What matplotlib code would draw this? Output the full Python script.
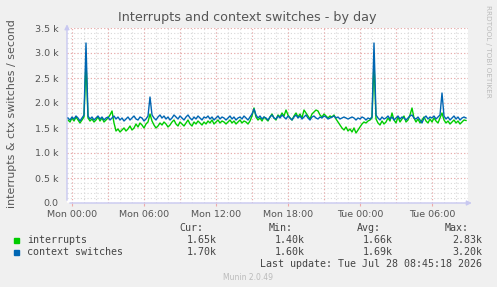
import numpy as np
import matplotlib
matplotlib.use("Agg")
import matplotlib.pyplot as plt

# samples every 10 minutes, hours relative to Mon 00:00
hours = np.arange(200) / 6 - 1 / 3

interrupts = [
    1.66, 1.62, 1.70, 1.64, 1.72, 1.66, 1.60, 1.66, 1.72, 2.83, 1.70, 1.64, 1.68, 1.62, 1.66, 1.72, 1.64, 1.70, 1.62, 1.66,
    1.70, 1.76, 1.84, 1.60, 1.44, 1.48, 1.42, 1.46, 1.50, 1.44, 1.48, 1.54, 1.46, 1.50, 1.58, 1.52, 1.60, 1.56, 1.50, 1.58,
    1.62, 1.78, 1.64, 1.56, 1.50, 1.54, 1.60, 1.56, 1.62, 1.58, 1.52, 1.56, 1.62, 1.66, 1.58, 1.54, 1.62, 1.58, 1.54, 1.60,
    1.66, 1.58, 1.54, 1.62, 1.58, 1.64, 1.60, 1.56, 1.62, 1.58, 1.64, 1.60, 1.66, 1.58, 1.62, 1.66, 1.60, 1.64, 1.62, 1.58,
    1.62, 1.66, 1.60, 1.64, 1.58, 1.62, 1.66, 1.60, 1.64, 1.62, 1.58, 1.64, 1.74, 1.90, 1.72, 1.66, 1.70, 1.64, 1.72, 1.68,
    1.64, 1.72, 1.78, 1.70, 1.66, 1.76, 1.72, 1.80, 1.74, 1.86, 1.76, 1.70, 1.66, 1.74, 1.80, 1.72, 1.78, 1.70, 1.86, 1.80,
    1.74, 1.68, 1.78, 1.82, 1.86, 1.84, 1.76, 1.72, 1.78, 1.74, 1.70, 1.74, 1.72, 1.76, 1.68, 1.62, 1.56, 1.50, 1.46, 1.52,
    1.44, 1.48, 1.42, 1.50, 1.40, 1.46, 1.52, 1.58, 1.62, 1.60, 1.64, 1.66, 1.70, 2.83, 1.68, 1.60, 1.56, 1.64, 1.58, 1.62,
    1.70, 1.64, 1.80, 1.66, 1.60, 1.72, 1.62, 1.68, 1.74, 1.62, 1.66, 1.76, 1.90, 1.70, 1.62, 1.68, 1.60, 1.66, 1.72, 1.64,
    1.60, 1.68, 1.62, 1.70, 1.64, 1.60, 1.70, 1.80, 1.66, 1.60, 1.64, 1.58, 1.62, 1.66, 1.60, 1.64, 1.58, 1.62, 1.66, 1.65,
]
ctx_switches = [
    1.70, 1.66, 1.72, 1.68, 1.74, 1.70, 1.64, 1.70, 1.76, 3.20, 1.74, 1.68, 1.72, 1.66, 1.70, 1.74, 1.68, 1.72, 1.66, 1.70,
    1.72, 1.66, 1.70, 1.74, 1.68, 1.72, 1.66, 1.70, 1.64, 1.68, 1.72, 1.66, 1.70, 1.74, 1.68, 1.66, 1.72, 1.70, 1.64, 1.68,
    1.74, 2.12, 1.76, 1.70, 1.66, 1.72, 1.76, 1.70, 1.74, 1.68, 1.72, 1.66, 1.70, 1.76, 1.72, 1.68, 1.74, 1.70, 1.66, 1.72,
    1.76, 1.70, 1.66, 1.72, 1.68, 1.74, 1.70, 1.66, 1.72, 1.70, 1.74, 1.68, 1.72, 1.66, 1.70, 1.74, 1.68, 1.72, 1.70, 1.66,
    1.70, 1.74, 1.68, 1.72, 1.66, 1.70, 1.72, 1.68, 1.74, 1.70, 1.66, 1.72, 1.78, 1.88, 1.76, 1.70, 1.74, 1.68, 1.72, 1.70,
    1.66, 1.72, 1.76, 1.70, 1.68, 1.74, 1.70, 1.76, 1.72, 1.68, 1.74, 1.70, 1.66, 1.72, 1.76, 1.70, 1.74, 1.68, 1.72, 1.76,
    1.70, 1.66, 1.72, 1.74, 1.70, 1.68, 1.72, 1.70, 1.74, 1.72, 1.68, 1.70, 1.72, 1.74, 1.70, 1.72, 1.68, 1.70, 1.72, 1.70,
    1.68, 1.70, 1.72, 1.70, 1.66, 1.70, 1.68, 1.72, 1.70, 1.66, 1.70, 1.68, 1.72, 3.20, 1.76, 1.70, 1.66, 1.72, 1.68, 1.70,
    1.74, 1.68, 1.72, 1.66, 1.70, 1.74, 1.68, 1.72, 1.70, 1.66, 1.70, 1.74, 1.76, 1.70, 1.68, 1.72, 1.66, 1.60, 1.70, 1.74,
    1.68, 1.72, 1.70, 1.74, 1.68, 1.72, 1.76, 2.20, 1.74, 1.68, 1.72, 1.66, 1.70, 1.74, 1.68, 1.72, 1.66, 1.70, 1.72, 1.70,
]

tick_hours = [0, 6, 12, 18, 24, 30]
tick_labels = ["Mon 00:00", "Mon 06:00", "Mon 12:00", "Mon 18:00", "Tue 00:00", "Tue 06:00"]
y_ticks = [0, 0.5, 1.0, 1.5, 2.0, 2.5, 3.0, 3.5]
y_labels = ["0.0", "0.5 k", "1.0 k", "1.5 k", "2.0 k", "2.5 k", "3.0 k", "3.5 k"]

series_names = ["interrupts", "context switches"]
colors = ["#00CC00", "#0066B3"]
cur = ["1.65k", "1.70k"]
mins = ["1.40k", "1.60k"]
avgs = ["1.66k", "1.69k"]
maxs = ["2.83k", "3.20k"]

W, H = 497, 287
fig = plt.figure(figsize=(W / 100, H / 100), dpi=100, facecolor="#F0F0F0")
ax = fig.add_axes([67 / W, 1 - 203 / H, 401 / W, 175 / H])
ax.set_facecolor("white")

ax.set_xlim(-5 / 12, 33.0)
ax.set_ylim(0, 3.5)

# grids: minor grey, major pinkish
for h in np.arange(0, 33, 1):
    ax.axvline(h, color="#D8D8D8", lw=0.8, ls=(0, (1, 2)), zorder=1)
for v in np.arange(0, 3.51, 0.1):
    ax.axhline(v, color="#D8D8D8", lw=0.8, ls=(0, (1, 2)), zorder=1)
for h in np.arange(0, 33, 3):
    ax.axvline(h, color="#EEAAAA", lw=0.8, ls=(0, (1, 2)), zorder=2)
for v in y_ticks:
    ax.axhline(v, color="#EEAAAA", lw=0.8, ls=(0, (1, 2)), zorder=2)

ax.plot(hours, interrupts, color=colors[0], lw=1.0, zorder=3)
ax.plot(hours, ctx_switches, color=colors[1], lw=1.0, zorder=4)

for s in ax.spines.values():
    s.set_visible(False)

ax.set_xticks(tick_hours)
ax.set_xticklabels(tick_labels)
ax.set_yticks(y_ticks)
ax.set_yticklabels(y_labels)
ax.tick_params(axis="x", length=2, color="#EEAAAA", pad=3, labelsize=6.8, labelcolor="#555555")
ax.tick_params(axis="y", length=0, pad=6, labelsize=6.8, labelcolor="#555555")

# axis arrows
axc = "#C8C8F0"
ax.annotate("", xy=(-5 / 12, 3.63), xytext=(-5 / 12, 0), annotation_clip=False,
            arrowprops=dict(arrowstyle="-|>", color=axc, lw=1, mutation_scale=7))
ax.annotate("", xy=(33.55, 0), xytext=(-5 / 12, 0), annotation_clip=False,
            arrowprops=dict(arrowstyle="-|>", color=axc, lw=1, mutation_scale=7))

fig.text(247 / W, 1 - 17 / H, "Interrupts and context switches - by day",
         ha="center", va="center", fontsize=9.2, color="#555555")
fig.text(12 / W, 1 - 114 / H, "interrupts & ctx switches / second", rotation=90,
         ha="center", va="center", fontsize=7.9, color="#555555")
fig.text(488 / W, 1 - 5 / H, "RRDTOOL / TOBI OETIKER", rotation=270,
         ha="center", va="top", fontsize=5.2, color="#BBBBBB")

mono = dict(family="DejaVu Sans Mono", fontsize=7.2, color="#444444", va="center")
fig.text(203 / W, 1 - 228 / H, "Cur:", ha="right", **mono)
fig.text(293 / W, 1 - 228 / H, "Min:", ha="right", **mono)
fig.text(381 / W, 1 - 228 / H, "Avg:", ha="right", **mono)
fig.text(469 / W, 1 - 228 / H, "Max:", ha="right", **mono)
for k, name in enumerate(series_names):
    y = 1 - (240 + 12 * k) / H
    fig.patches.append(plt.Rectangle((14 / W, y - 2.5 / H), 5 / W, 5 / H,
                                     transform=fig.transFigure, color=colors[k]))
    fig.text(27 / W, y, name, ha="left", **mono)
    fig.text(217 / W, y, cur[k], ha="right", **mono)
    fig.text(305 / W, y, mins[k], ha="right", **mono)
    fig.text(393 / W, y, avgs[k], ha="right", **mono)
    fig.text(482 / W, y, maxs[k], ha="right", **mono)
fig.text(482 / W, 1 - 264 / H, "Last update: Tue Jul 28 08:45:18 2026", ha="right", **mono)
fig.text(248 / W, 1 - 278 / H, "Munin 2.0.49", ha="center", va="center",
         fontsize=5.5, color="#BBBBBB")

fig.savefig("out.png", dpi=100, facecolor=fig.get_facecolor())
